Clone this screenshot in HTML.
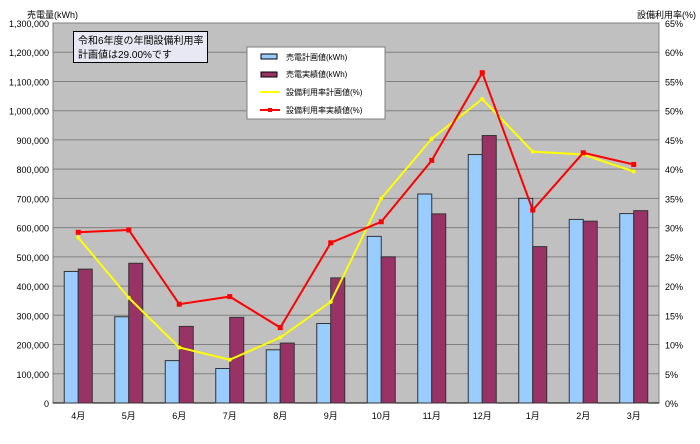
<!DOCTYPE html>
<html><head><meta charset="utf-8"><style>
body{margin:0;background:#fff;}
svg text{font-family:"Liberation Sans","Noto Sans CJK JP",sans-serif;}
</style></head><body>
<svg width="700" height="439" xmlns="http://www.w3.org/2000/svg">
<g id="root"></g>
</svg>
<script>
const months=["4月","5月","6月","7月","8月","9月","10月","11月","12月","1月","2月","3月"];
const planKwh=[450000,295000,145000,118000,182000,272000,570000,715000,850000,700000,628000,648000];
const actualKwh=[458000,478000,262000,293000,205000,428000,500000,647000,915000,535000,622000,658000];
const planRate=[28.3,18,9.5,7.4,11.2,17.3,35,45.2,52,43,42.5,39.6];
const actualRate=[29.2,29.6,16.9,18.2,12.9,27.4,31,41.5,56.5,33,42.8,40.8];
const leftTicks=["0","100,000","200,000","300,000","400,000","500,000","600,000","700,000","800,000","900,000","1,000,000","1,100,000","1,200,000","1,300,000"];
const rightTicks=["0%","5%","10%","15%","20%","25%","30%","35%","40%","45%","50%","55%","60%","65%"];
const L=53,R=659,T=23,B=403;
const NS="http://www.w3.org/2000/svg";
const root=document.getElementById('root');
function mk(tag,attrs,name,txt){const e=document.createElementNS(NS,tag);for(const k in attrs)e.setAttribute(k,attrs[k]);


if(txt!==undefined)e.textContent=txt;root.appendChild(e);return e;}
const yL=v=>B-v/1300000*(B-T);
const yR=v=>B-v/65*(B-T);
const cw=(R-L)/months.length;
const xC=i=>L+cw*(i+0.5);
mk('rect',{x:L,y:T,width:R-L,height:B-T,fill:'#c0c0c0',stroke:'#808080'},'plot-area');
leftTicks.forEach((t,i)=>{const y=yL(i*100000);
if(i>0&&i<13)mk('line',{x1:L,x2:R,y1:y,y2:y,stroke:'#808080','stroke-width':1},'gridline');
mk('text',{x:L-4,y:y+4,'text-anchor':'end','font-size':9},'left-tick-label',t);
mk('text',{x:R+6,y:y+4,'font-size':9},'right-tick-label',rightTicks[i]);});
mk('line',{x1:L,x2:R,y1:B,y2:B,stroke:'#000'},'x-axis');
months.forEach((m,i)=>{
mk('rect',{x:xC(i)-14,y:yL(planKwh[i]),width:14,height:B-yL(planKwh[i]),fill:'#99ccff',stroke:'#333','stroke-width':1},'bar-plan');
mk('rect',{x:xC(i),y:yL(actualKwh[i]),width:14,height:B-yL(actualKwh[i]),fill:'#993366',stroke:'#333','stroke-width':1},'bar-actual');
mk('text',{x:xC(i),y:B+16,'text-anchor':'middle','font-size':9},'x-tick-label',m);});
function line(arr,color,name,sq){
mk('polyline',{points:arr.map((v,i)=>xC(i)+','+yR(v)).join(' '),fill:'none',stroke:color,'stroke-width':2},name+'-line');
arr.forEach((v,i)=>{if(sq)mk('rect',{x:xC(i)-2.5,y:yR(v)-2.5,width:5,height:5,fill:color},name+'-point');
else mk('circle',{cx:xC(i),cy:yR(v),r:2,fill:color},name+'-point');});}
line(planRate,'#ffff00','plan-rate',false);
line(actualRate,'#ff0000','actual-rate',true);
mk('text',{x:27,y:18,'font-size':9},'left-axis-title','売電量(kWh)');
mk('text',{x:696,y:18,'text-anchor':'end','font-size':9},'right-axis-title','設備利用率(%)');
mk('rect',{x:73.5,y:31.5,width:134,height:31,fill:'#e8e8f4',stroke:'#000'},'annotation-box');
mk('text',{x:78,y:44,'font-size':10},'annotation-line1','令和6年度の年間設備利用率');
mk('text',{x:78,y:58,'font-size':10},'annotation-line2','計画値は29.00%です');
mk('rect',{x:247,y:47,width:138,height:72,fill:'#fff',stroke:'#808080'},'legend');
const ly=[57,74,92,110];
mk('rect',{x:261,y:54,width:16,height:5,fill:'#99ccff',stroke:'#000'},'legend-swatch-plan');
mk('rect',{x:261,y:72,width:16,height:5,fill:'#993366',stroke:'#000'},'legend-swatch-actual');
mk('line',{x1:260,x2:280,y1:92,y2:92,stroke:'#ffff00','stroke-width':2},'legend-swatch-plan-rate');
mk('line',{x1:260,x2:280,y1:110,y2:110,stroke:'#ff0000','stroke-width':2},'legend-swatch-actual-rate');
mk('rect',{x:268,y:108,width:4,height:4,fill:'#ff0000'},'legend-marker');
["売電計画値(kWh)","売電実績値(kWh)","設備利用率計画値(%)","設備利用率実績値(%)"].forEach((t,i)=>mk('text',{x:286,y:ly[i]+3,'font-size':8},'legend-entry',t));
</script>
</body></html>
